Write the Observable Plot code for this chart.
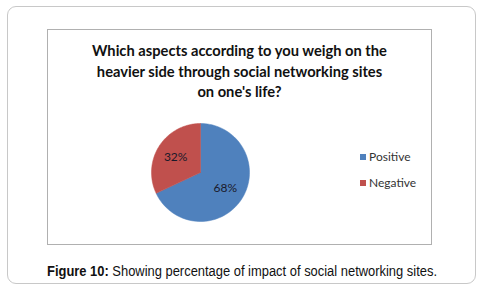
<!DOCTYPE html>
<html>
<head>
<meta charset="utf-8">
<script src="https://cdn.jsdelivr.net/npm/d3@7"></script>
<script src="https://cdn.jsdelivr.net/npm/@observablehq/plot@0.6"></script>
<style>
  html, body { margin: 0; padding: 0; background: #fff; }
  #page { position: relative; width: 483px; height: 295px; overflow: hidden; font-family: "Liberation Sans", Arial, sans-serif; }
  #outer { position: absolute; left: 7px; top: 6px; width: 467px; height: 276px; border: 1.5px solid #c8c8c8; border-radius: 9px; }
  #inner { position: absolute; left: 47px; top: 29px; width: 383px; height: 214px; border: 1px solid #b0b0b0; }
  #title { position: absolute; left: 47px; top: 40px; width: 385px; text-align: center; font-family: Lato, "Open Sans", sans-serif; font-weight: bold; font-size: 14.7px; line-height: 20.5px; color: #111; }
  #pie { position: absolute; left: 141px; top: 113px; }
  #legend { position: absolute; left: 360px; top: 150px; font-family: Lato, sans-serif; font-size: 12px; color: #333; }
  #legend .item { display: flex; align-items: center; height: 13px; margin-bottom: 13px; }
  #legend .sw { width: 6px; height: 6px; margin-right: 3px; }
  #caption { position: absolute; left: 47px; top: 263px; font-size: 14px; color: #111; white-space: nowrap; transform-origin: 0 0; }
</style>
</head>
<body>
<div id="page">
  <div id="outer"></div>
  <div id="inner"></div>
  <div id="title"></div>
  <div id="pie"></div>
  <div id="legend"></div>
  <div id="caption"><b>Figure 10:</b> Showing percentage of impact of social networking sites.</div>
</div>
<script>
const categories = ["Positive", "Negative"];
const values = [68, 32];
const labels = ["68%", "32%"];
const colors = ["#4F81BD", "#C0504D"];
const titleLines = ["Which aspects according to you weigh on the", "heavier side through social networking sites", "on one's life?"];

document.getElementById("title").innerHTML = titleLines.join("<br>");

// pie geometry from the values
const arcs = d3.pie().sort(null).value(d => d)(values);
const pts = [];
arcs.forEach((a, i) => {
  pts.push({cat: categories[i], x: 0, y: 0});
  const n = 90;
  for (let k = 0; k <= n; k++) {
    const t = a.startAngle + (a.endAngle - a.startAngle) * k / n;
    pts.push({cat: categories[i], x: Math.sin(t), y: Math.cos(t)});
  }
  pts.push({cat: categories[i], x: 0, y: 0});
});
const labelPts = arcs.map((a, i) => {
  const m = (a.startAngle + a.endAngle) / 2;
  return {label: labels[i], x: 0.6 * Math.sin(m), y: 0.6 * Math.cos(m)};
});

const chart = Plot.plot({
  width: 118, height: 118,
  margin: 10,
  x: {domain: [-1, 1], axis: null},
  y: {domain: [-1, 1], axis: null},
  color: {domain: categories, range: colors},
  marks: [
    Plot.line(pts, {x: "x", y: "y", z: "cat", fill: "cat", stroke: "cat", strokeWidth: 0.5, curve: "linear"}),
    Plot.text(labelPts, {x: "x", y: "y", text: "label", fontSize: 12, fill: "#1a1a2a", fontFamily: "Lato, sans-serif"})
  ]
});
document.getElementById("pie").appendChild(chart);

const leg = document.getElementById("legend");
categories.forEach((c, i) => {
  const it = document.createElement("div");
  it.className = "item";
  it.innerHTML = `<span class="sw" style="background:${colors[i]}"></span><span>${c}</span>`;
  leg.appendChild(it);
});

// fit caption width
const cap = document.getElementById("caption");
const w = cap.getBoundingClientRect().width;
cap.style.transform = `scaleX(${390 / w})`;
</script>
</body>
</html>
